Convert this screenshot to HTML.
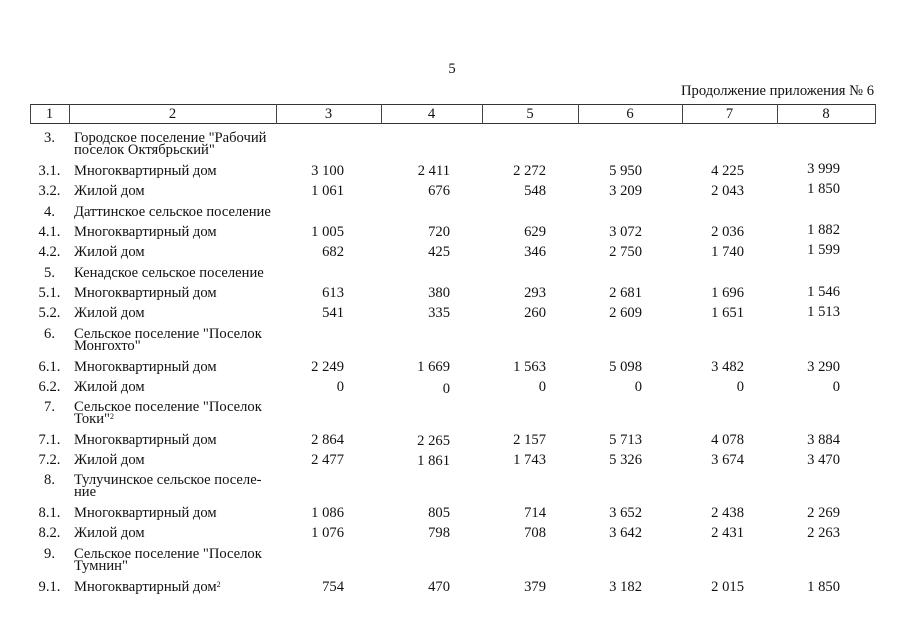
<!DOCTYPE html>
<html>
<head>
<meta charset="utf-8">
<style>
html,body{margin:0;padding:0;background:#fff;}
#pg{position:relative;width:905px;height:640px;overflow:hidden;background:#fff;
font-family:"Liberation Serif","Noto Serif CJK SC",serif;font-size:14.6px;color:#111;}
.t{position:absolute;line-height:16px;height:16px;white-space:nowrap;}
.c1{left:30px;width:39px;text-align:center;}
.c2{left:74px;}
.n{text-align:right;}
.h{position:absolute;background:#333;height:1px;}
.v{position:absolute;background:#444;width:1px;top:104px;height:20px;}
sup{font-size:8px;vertical-align:top;position:relative;top:-2px;}
</style>
</head>
<body>
<div id="pg">
<div class="t" style="left:432px;width:40px;text-align:center;top:61px;">5</div>
<div class="t" style="right:31px;top:83px;">Продолжение приложения № 6</div>

<div class="h" style="left:30px;width:846px;top:104px;"></div>
<div class="h" style="left:30px;width:846px;top:123px;"></div>
<div class="v" style="left:30px;"></div>
<div class="v" style="left:69px;"></div>
<div class="v" style="left:276px;"></div>
<div class="v" style="left:381px;"></div>
<div class="v" style="left:482px;"></div>
<div class="v" style="left:578px;"></div>
<div class="v" style="left:682px;"></div>
<div class="v" style="left:777px;"></div>
<div class="v" style="left:875px;"></div>

<div class="t" style="left:30px;width:39px;text-align:center;top:106px;">1</div>
<div class="t" style="left:69px;width:207px;text-align:center;top:106px;">2</div>
<div class="t" style="left:276px;width:105px;text-align:center;top:106px;">3</div>
<div class="t" style="left:381px;width:101px;text-align:center;top:106px;">4</div>
<div class="t" style="left:482px;width:96px;text-align:center;top:106px;">5</div>
<div class="t" style="left:578px;width:104px;text-align:center;top:106px;">6</div>
<div class="t" style="left:682px;width:95px;text-align:center;top:106px;">7</div>
<div class="t" style="left:777px;width:98px;text-align:center;top:106px;">8</div>

<!-- 3. -->
<div class="t c1" style="top:130px;">3.</div>
<div class="t c2" style="top:130px;">Городское поселение "Рабочий</div>
<div class="t c2" style="top:142px;">поселок Октябрьский"</div>

<!-- 3.1 -->
<div class="t c1" style="top:163px;">3.1.</div>
<div class="t c2" style="top:163px;">Многоквартирный дом</div>
<div class="t n" style="right:561px;top:163px;">3 100</div>
<div class="t n" style="right:455px;top:163px;">2 411</div>
<div class="t n" style="right:359px;top:163px;">2 272</div>
<div class="t n" style="right:263px;top:163px;">5 950</div>
<div class="t n" style="right:161px;top:163px;">4 225</div>
<div class="t n" style="right:65px;top:161px;">3 999</div>

<!-- 3.2 -->
<div class="t c1" style="top:183px;">3.2.</div>
<div class="t c2" style="top:183px;">Жилой дом</div>
<div class="t n" style="right:561px;top:183px;">1 061</div>
<div class="t n" style="right:455px;top:183px;">676</div>
<div class="t n" style="right:359px;top:183px;">548</div>
<div class="t n" style="right:263px;top:183px;">3 209</div>
<div class="t n" style="right:161px;top:183px;">2 043</div>
<div class="t n" style="right:65px;top:181px;">1 850</div>

<!-- 4. -->
<div class="t c1" style="top:204px;">4.</div>
<div class="t c2" style="top:204px;">Даттинское сельское поселение</div>

<!-- 4.1 -->
<div class="t c1" style="top:224px;">4.1.</div>
<div class="t c2" style="top:224px;">Многоквартирный дом</div>
<div class="t n" style="right:561px;top:224px;">1 005</div>
<div class="t n" style="right:455px;top:224px;">720</div>
<div class="t n" style="right:359px;top:224px;">629</div>
<div class="t n" style="right:263px;top:224px;">3 072</div>
<div class="t n" style="right:161px;top:224px;">2 036</div>
<div class="t n" style="right:65px;top:222px;">1 882</div>

<!-- 4.2 -->
<div class="t c1" style="top:244px;">4.2.</div>
<div class="t c2" style="top:244px;">Жилой дом</div>
<div class="t n" style="right:561px;top:244px;">682</div>
<div class="t n" style="right:455px;top:244px;">425</div>
<div class="t n" style="right:359px;top:244px;">346</div>
<div class="t n" style="right:263px;top:244px;">2 750</div>
<div class="t n" style="right:161px;top:244px;">1 740</div>
<div class="t n" style="right:65px;top:242px;">1 599</div>

<!-- 5. -->
<div class="t c1" style="top:265px;">5.</div>
<div class="t c2" style="top:265px;">Кенадское сельское поселение</div>

<!-- 5.1 -->
<div class="t c1" style="top:285px;">5.1.</div>
<div class="t c2" style="top:285px;">Многоквартирный дом</div>
<div class="t n" style="right:561px;top:285px;">613</div>
<div class="t n" style="right:455px;top:285px;">380</div>
<div class="t n" style="right:359px;top:285px;">293</div>
<div class="t n" style="right:263px;top:285px;">2 681</div>
<div class="t n" style="right:161px;top:285px;">1 696</div>
<div class="t n" style="right:65px;top:284px;">1 546</div>

<!-- 5.2 -->
<div class="t c1" style="top:305px;">5.2.</div>
<div class="t c2" style="top:305px;">Жилой дом</div>
<div class="t n" style="right:561px;top:305px;">541</div>
<div class="t n" style="right:455px;top:305px;">335</div>
<div class="t n" style="right:359px;top:305px;">260</div>
<div class="t n" style="right:263px;top:305px;">2 609</div>
<div class="t n" style="right:161px;top:305px;">1 651</div>
<div class="t n" style="right:65px;top:304px;">1 513</div>

<!-- 6. -->
<div class="t c1" style="top:326px;">6.</div>
<div class="t c2" style="top:326px;">Сельское поселение "Поселок</div>
<div class="t c2" style="top:338px;">Монгохто"</div>

<!-- 6.1 -->
<div class="t c1" style="top:359px;">6.1.</div>
<div class="t c2" style="top:359px;">Многоквартирный дом</div>
<div class="t n" style="right:561px;top:359px;">2 249</div>
<div class="t n" style="right:455px;top:359px;">1 669</div>
<div class="t n" style="right:359px;top:359px;">1 563</div>
<div class="t n" style="right:263px;top:359px;">5 098</div>
<div class="t n" style="right:161px;top:359px;">3 482</div>
<div class="t n" style="right:65px;top:359px;">3 290</div>

<!-- 6.2 -->
<div class="t c1" style="top:379px;">6.2.</div>
<div class="t c2" style="top:379px;">Жилой дом</div>
<div class="t n" style="right:561px;top:379px;">0</div>
<div class="t n" style="right:455px;top:381px;">0</div>
<div class="t n" style="right:359px;top:379px;">0</div>
<div class="t n" style="right:263px;top:379px;">0</div>
<div class="t n" style="right:161px;top:379px;">0</div>
<div class="t n" style="right:65px;top:379px;">0</div>

<!-- 7. -->
<div class="t c1" style="top:399px;">7.</div>
<div class="t c2" style="top:399px;">Сельское поселение "Поселок</div>
<div class="t c2" style="top:411px;">Токи"<sup>2</sup></div>

<!-- 7.1 -->
<div class="t c1" style="top:432px;">7.1.</div>
<div class="t c2" style="top:432px;">Многоквартирный дом</div>
<div class="t n" style="right:561px;top:432px;">2 864</div>
<div class="t n" style="right:455px;top:433px;">2 265</div>
<div class="t n" style="right:359px;top:432px;">2 157</div>
<div class="t n" style="right:263px;top:432px;">5 713</div>
<div class="t n" style="right:161px;top:432px;">4 078</div>
<div class="t n" style="right:65px;top:432px;">3 884</div>

<!-- 7.2 -->
<div class="t c1" style="top:452px;">7.2.</div>
<div class="t c2" style="top:452px;">Жилой дом</div>
<div class="t n" style="right:561px;top:452px;">2 477</div>
<div class="t n" style="right:455px;top:453px;">1 861</div>
<div class="t n" style="right:359px;top:452px;">1 743</div>
<div class="t n" style="right:263px;top:452px;">5 326</div>
<div class="t n" style="right:161px;top:452px;">3 674</div>
<div class="t n" style="right:65px;top:452px;">3 470</div>

<!-- 8. -->
<div class="t c1" style="top:472px;">8.</div>
<div class="t c2" style="top:472px;">Тулучинское сельское поселе-</div>
<div class="t c2" style="top:484px;">ние</div>

<!-- 8.1 -->
<div class="t c1" style="top:505px;">8.1.</div>
<div class="t c2" style="top:505px;">Многоквартирный дом</div>
<div class="t n" style="right:561px;top:505px;">1 086</div>
<div class="t n" style="right:455px;top:505px;">805</div>
<div class="t n" style="right:359px;top:505px;">714</div>
<div class="t n" style="right:263px;top:505px;">3 652</div>
<div class="t n" style="right:161px;top:505px;">2 438</div>
<div class="t n" style="right:65px;top:505px;">2 269</div>

<!-- 8.2 -->
<div class="t c1" style="top:525px;">8.2.</div>
<div class="t c2" style="top:525px;">Жилой дом</div>
<div class="t n" style="right:561px;top:525px;">1 076</div>
<div class="t n" style="right:455px;top:525px;">798</div>
<div class="t n" style="right:359px;top:525px;">708</div>
<div class="t n" style="right:263px;top:525px;">3 642</div>
<div class="t n" style="right:161px;top:525px;">2 431</div>
<div class="t n" style="right:65px;top:525px;">2 263</div>

<!-- 9. -->
<div class="t c1" style="top:546px;">9.</div>
<div class="t c2" style="top:546px;">Сельское поселение "Поселок</div>
<div class="t c2" style="top:558px;">Тумнин"</div>

<!-- 9.1 -->
<div class="t c1" style="top:579px;">9.1.</div>
<div class="t c2" style="top:579px;">Многоквартирный дом<sup>2</sup></div>
<div class="t n" style="right:561px;top:579px;">754</div>
<div class="t n" style="right:455px;top:579px;">470</div>
<div class="t n" style="right:359px;top:579px;">379</div>
<div class="t n" style="right:263px;top:579px;">3 182</div>
<div class="t n" style="right:161px;top:579px;">2 015</div>
<div class="t n" style="right:65px;top:579px;">1 850</div>
</div>
</body>
</html>
